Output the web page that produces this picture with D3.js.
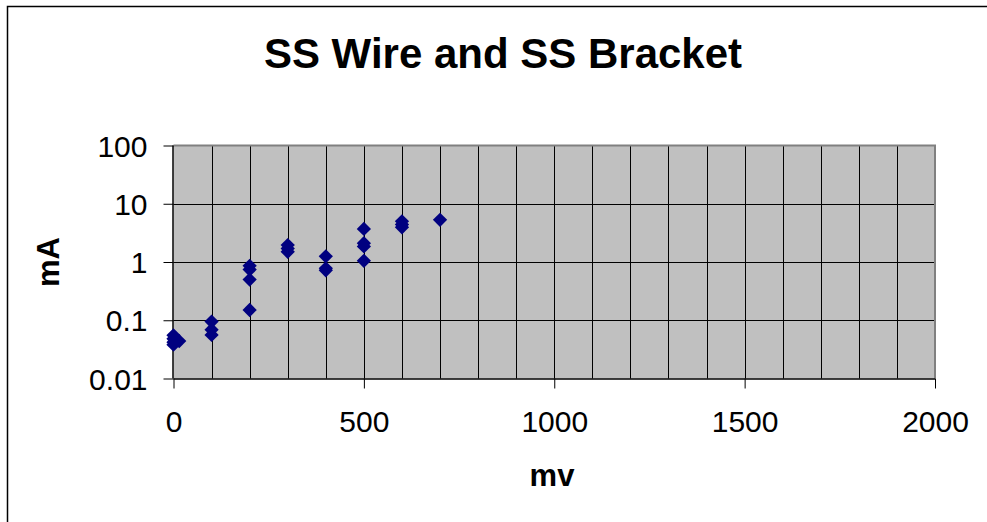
<!DOCTYPE html>
<html>
<head>
<meta charset="utf-8">
<script src="https://cdn.jsdelivr.net/npm/d3@7"></script>
<style>
  html, body { margin: 0; padding: 0; background: #fff; }
  svg { display: block; font-family: Arial, "Liberation Sans", sans-serif; }
</style>
</head>
<body>
<svg id="chart" width="987" height="522"></svg>
<script>
// Measurements: potential (mv) vs current (mA)
const mvValues = [0, 0, 0, 0, 15, 100, 100, 100, 200, 200, 200, 200, 300, 300, 300, 400, 400, 400, 500, 500, 500, 500, 600, 600, 600, 700];
const mAValues = [0.055, 0.048, 0.042, 0.038, 0.044, 0.095, 0.069, 0.056, 0.86, 0.74, 0.50, 0.15, 1.95, 1.7, 1.5, 1.25, 0.78, 0.72, 3.7, 2.1, 1.85, 1.05, 5.0, 4.4, 3.95, 5.3];

const xTickValues = [0, 500, 1000, 1500, 2000];
const yTickValues = [0.01, 0.1, 1, 10, 100];
const yTickLabels = ["0.01", "0.1", "1", "10", "100"];

const titleText = "SS Wire and SS Bracket";
const xTitle = "mv";
const yTitle = "mA";

const svg = d3.select("#chart");
const W = 987, H = 522;

// chart frame
svg.append("rect")
  .attr("x", 7.5).attr("y", 6.5)
  .attr("width", W + 10).attr("height", H + 10)
  .attr("fill", "#fff").attr("stroke", "#000").attr("stroke-width", 1.5);

const plot = { left: 173.5, right: 935, top: 145.5, bottom: 378.5 };

const x = d3.scaleLinear().domain([0, 2000]).range([plot.left, plot.right]);
const y = d3.scaleLog().domain([0.01, 100]).range([plot.bottom, plot.top]);

// plot area background
svg.append("rect")
  .attr("x", plot.left).attr("y", plot.top)
  .attr("width", plot.right - plot.left).attr("height", plot.bottom - plot.top)
  .attr("fill", "#c0c0c0");

// gridlines
const g = svg.append("g");
g.selectAll("line.vg").data(d3.range(100, 2000, 100)).join("line")
  .attr("x1", d => Math.round(x(d)) + 0.5).attr("x2", d => Math.round(x(d)) + 0.5)
  .attr("y1", plot.top).attr("y2", plot.bottom)
  .attr("stroke", "#000").attr("stroke-width", 1);
g.selectAll("line.hg").data(yTickValues.slice(1, -1)).join("line")
  .attr("x1", plot.left).attr("x2", plot.right)
  .attr("y1", d => Math.round(y(d)) + 0.5).attr("y2", d => Math.round(y(d)) + 0.5)
  .attr("stroke", "#000").attr("stroke-width", 1);

// plot area border (top / right in gray)
svg.append("path")
  .attr("d", `M${plot.left},${plot.top} H${plot.right} V${plot.bottom}`)
  .attr("fill", "none").attr("stroke", "#808080").attr("stroke-width", 2);

// axes
const xAxis = d3.axisBottom(x).tickValues(xTickValues).tickSize(10).tickPadding(22)
  .tickFormat(d3.format("d"));
const xg = svg.append("g").attr("transform", `translate(0,${plot.bottom})`).call(xAxis);
xg.select(".domain").attr("stroke", "#000").attr("stroke-width", 1.5).attr("d", `M${plot.left},0.5H${plot.right}`);
xg.selectAll(".tick line").attr("stroke", "#000");
xg.selectAll(".tick text").attr("font-size", 30).attr("fill", "#000")
  .attr("font-family", "Arial, 'Liberation Sans', sans-serif");

const yAxis = d3.axisLeft(y).tickValues(yTickValues).tickSize(10).tickPadding(16)
  .tickFormat((d, i) => yTickLabels[i]);
const yg = svg.append("g").attr("transform", `translate(${plot.left},0)`).call(yAxis);
yg.select(".domain").attr("stroke", "#000").attr("stroke-width", 1.5).attr("d", `M-0.5,${plot.top}V${plot.bottom}`);
yg.selectAll(".tick line").attr("stroke", "#000");
yg.selectAll(".tick text").attr("font-size", 30).attr("fill", "#000").attr("dy", "0.35em")
  .attr("font-family", "Arial, 'Liberation Sans', sans-serif");

// data markers: navy diamonds
const points = mvValues.map((v, i) => ({ mv: v, mA: mAValues[i] }));
const diamond = d3.symbol().type(d3.symbolDiamond2).size(130);
svg.append("g").selectAll("path").data(points).join("path")
  .attr("d", diamond)
  .attr("transform", d => `translate(${x(d.mv)},${y(d.mA)})`)
  .attr("fill", "#000080");

// titles
svg.append("text").attr("x", 503).attr("y", 68)
  .attr("text-anchor", "middle").attr("font-size", 42).attr("font-weight", "bold")
  .text(titleText);
svg.append("text").attr("x", 552).attr("y", 486)
  .attr("text-anchor", "middle").attr("font-size", 31).attr("font-weight", "bold")
  .text(xTitle);
svg.append("text").attr("transform", `translate(59,${(plot.top + plot.bottom) / 2}) rotate(-90)`)
  .attr("text-anchor", "middle").attr("font-size", 31).attr("font-weight", "bold")
  .text(yTitle);
</script>
</body>
</html>
